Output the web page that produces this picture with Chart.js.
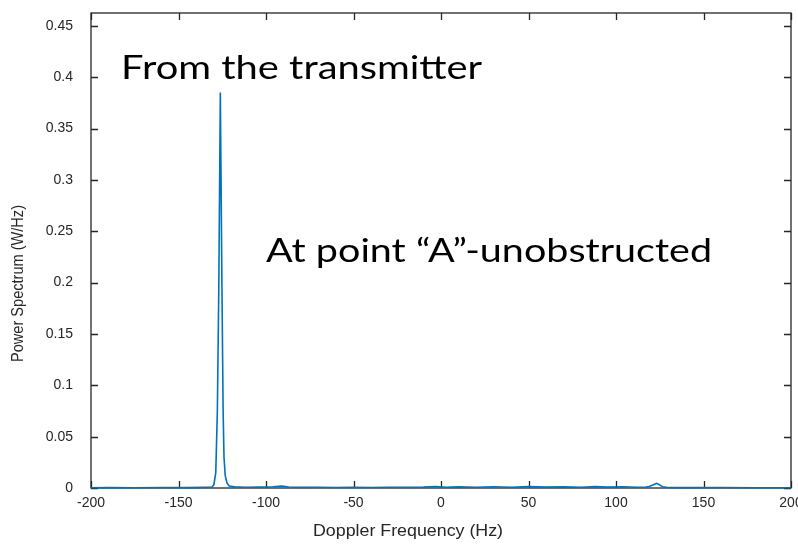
<!DOCTYPE html>
<html>
<head>
<meta charset="utf-8">
<script src="https://cdn.jsdelivr.net/npm/chart.js@4.4.1/dist/chart.umd.min.js"></script>
<style>
  html, body { margin: 0; padding: 0; background: #ffffff; overflow: hidden; }
  canvas { display: block; }
</style>
</head>
<body>
<canvas id="spectrum" width="798" height="549"></canvas>
<script>
// Doppler power spectrum samples
const freqHz = [
  -200, -190, -175, -160, -145, -135, -131, -129.8, -128.7, -127.8,
  -127.0, -126.1, -125.2, -124.5, -124.0, -123.3, -122.3, -121, -118, -112,
  -104, -96, -91, -87, -80, -70, -60, -50, -40, -30,
  -20, -10, -3, 3, 10, 20, 30, 40, 50, 60,
  70, 80, 88, 95, 104, 112, 117, 119, 121, 123.2,
  125, 126.5, 129, 140, 160, 180, 200
];
const powerWHz = [
  0.0003, 0.0004, 0.0003, 0.0005, 0.0004, 0.0006, 0.0008, 0.003, 0.015, 0.075,
  0.19, 0.385, 0.2, 0.075, 0.03, 0.012, 0.005, 0.002, 0.0011, 0.0008,
  0.0009, 0.0012, 0.0018, 0.0009, 0.0006, 0.0007, 0.0005, 0.0006, 0.0005, 0.0007,
  0.0006, 0.0009, 0.0014, 0.0008, 0.0011, 0.0007, 0.0012, 0.0008, 0.0013, 0.0009,
  0.0011, 0.0008, 0.0013, 0.0009, 0.0012, 0.0008, 0.0009, 0.0015, 0.003, 0.0046,
  0.003, 0.0012, 0.0006, 0.0004, 0.0005, 0.0003, 0.0003
];

const xTicks = [-200, -150, -100, -50, 0, 50, 100, 150, 200];
const yTicks = [0, 0.05, 0.1, 0.15, 0.2, 0.25, 0.3, 0.35, 0.4, 0.45];
const xTitle = 'Doppler Frequency (Hz)';
const yTitle = 'Power Spectrum (W/Hz)';
const noteTexts = ['From the transmitter', 'At point “A”-unobstructed'];

const AXIS_COLOR = '#262626';
const TICK_FONT = { family: '"Liberation Sans", Arial, sans-serif', size: 14 };

// Draw text squeezed or stretched along its own direction to a given length
function fitText(ctx, text, x, y, font, length, align, angle) {
  ctx.save();
  ctx.font = font;
  const w = ctx.measureText(text).width;
  ctx.translate(x, y);
  if (angle) ctx.rotate(angle);
  ctx.scale(length / w, 1);
  ctx.textAlign = align;
  ctx.textBaseline = 'alphabetic';
  ctx.fillText(text, 0, 0);
  ctx.restore();
}

// Fixed scale size, no extra room for overhanging tick labels
function fixSize(prop, size) {
  return s => {
    s[prop] = size;
    s.paddingLeft = s.paddingRight = s.paddingTop = s.paddingBottom = 0;
  };
}

// Box frame with inward tick marks on all four sides
const framePlugin = {
  id: 'frame',
  beforeDatasetsDraw(chart) {
    const { ctx, chartArea: a, scales: { x, y } } = chart;
    const tl = 7;
    ctx.save();
    ctx.strokeStyle = AXIS_COLOR;
    ctx.lineWidth = 1.3;
    ctx.strokeRect(a.left, a.top, a.right - a.left, a.bottom - a.top);
    ctx.beginPath();
    xTicks.forEach(v => {
      const px = Math.round(x.getPixelForValue(v)) + 0.5;
      ctx.moveTo(px, a.bottom); ctx.lineTo(px, a.bottom - tl);
      ctx.moveTo(px, a.top); ctx.lineTo(px, a.top + tl);
    });
    yTicks.forEach(v => {
      const py = Math.round(y.getPixelForValue(v)) + 0.5;
      ctx.moveTo(a.left, py); ctx.lineTo(a.left + tl, py);
      ctx.moveTo(a.right, py); ctx.lineTo(a.right - tl, py);
    });
    ctx.stroke();
    ctx.restore();
  },
  afterDraw(chart) {
    const { ctx, scales: { x, y } } = chart;
    ctx.save();
    // axis titles
    ctx.fillStyle = AXIS_COLOR;
    fitText(ctx, xTitle, 408, 536, '16px "Liberation Sans", Arial, sans-serif', 190, 'center', 0);
    fitText(ctx, yTitle, 23, 283.5, '16px "Liberation Sans", Arial, sans-serif', 157, 'center', -Math.PI / 2);
    // annotations placed in data units
    ctx.fillStyle = '#000000';
    const noteFont = '32px Lato, "Open Sans", sans-serif';
    fitText(ctx, noteTexts[0], x.getPixelForValue(-182.8), y.getPixelForValue(0.398), noteFont, 361, 'left', 0);
    fitText(ctx, noteTexts[1], x.getPixelForValue(-100), y.getPixelForValue(0.22), noteFont, 446, 'left', 0);
    ctx.restore();
  }
};

new Chart(document.getElementById('spectrum'), {
  type: 'scatter',
  data: {
    datasets: [{
      data: freqHz.map((f, i) => ({ x: f, y: powerWHz[i] })),
      showLine: true,
      borderColor: '#0072BD',
      borderWidth: 1.6,
      pointRadius: 0,
      tension: 0,
      clip: 4
    }]
  },
  options: {
    responsive: false,
    animation: false,
    devicePixelRatio: 1,
    layout: { autoPadding: false, padding: { top: 13, right: 7, left: 0, bottom: 0 } },
    plugins: { legend: { display: false }, tooltip: { enabled: false } },
    scales: {
      x: {
        type: 'linear',
        min: -200,
        max: 200,
        afterBuildTicks: s => { s.ticks = xTicks.map(v => ({ value: v })); },
        afterFit: fixSize('height', 61),
        grid: { display: false, drawTicks: false },
        border: { display: false },
        ticks: { font: TICK_FONT, color: AXIS_COLOR, padding: 7, maxRotation: 0, autoSkip: false,
                 callback: v => String(v) }
      },
      y: {
        type: 'linear',
        min: 0,
        max: 0.4625,
        afterBuildTicks: s => { s.ticks = yTicks.map(v => ({ value: v })); },
        afterFit: fixSize('width', 91),
        grid: { display: false, drawTicks: false },
        border: { display: false },
        ticks: { font: TICK_FONT, color: AXIS_COLOR, padding: 18, autoSkip: false,
                 callback: v => String(v) }
      }
    }
  },
  plugins: [framePlugin]
});
</script>
</body>
</html>
